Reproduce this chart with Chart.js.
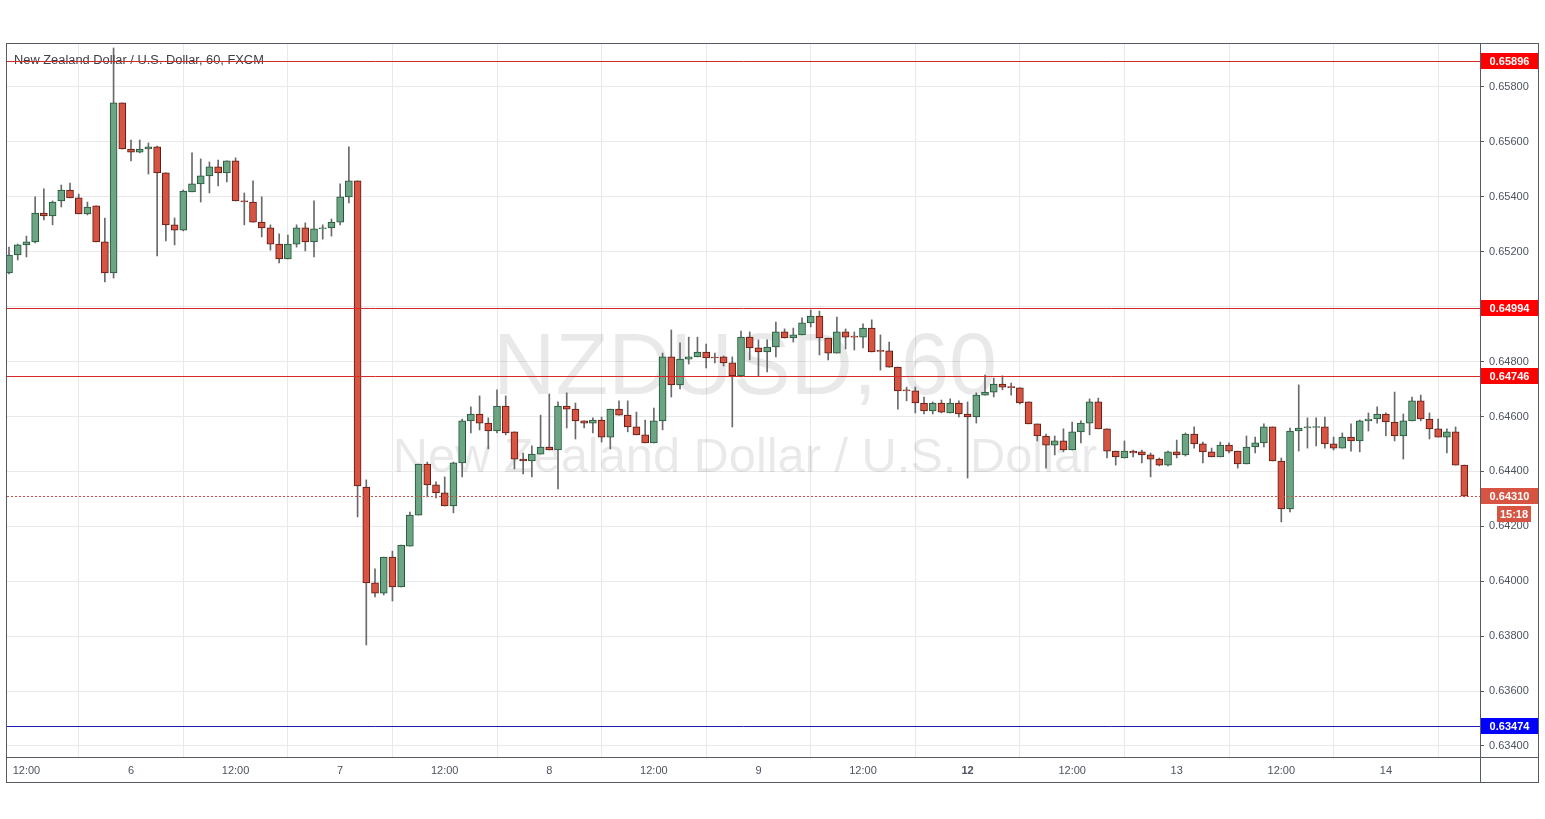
<!DOCTYPE html>
<html><head><meta charset="utf-8">
<script src="https://cdn.jsdelivr.net/npm/chart.js@4.4.0/dist/chart.umd.min.js"></script>
<style>html,body{margin:0;padding:0;background:#fff;}canvas{display:block;}</style>
</head><body>
<canvas id="c" width="1545" height="819"></canvas>
<script>
// ---------- DATA (NZD/USD, 60 min, FXCM) ----------
const opens = [
0.65123,0.65188,0.65225,0.65236,0.65341,0.65330,0.65385,0.65425,0.65396,0.65338,
0.65367,0.65236,0.65123,0.65742,0.65574,0.65563,0.65574,0.65582,0.65487,0.65298,
0.65279,0.65418,0.65447,0.65476,0.65509,0.65487,0.65531,0.65385,0.65381,0.65308,
0.65287,0.65228,0.65174,0.65228,0.65287,0.65236,0.65283,0.65287,0.65308,0.65400,
0.65458,0.64343,0.63994,0.63957,0.64088,0.63979,0.64128,0.64241,0.64427,0.64351,
0.64322,0.64274,0.64431,0.64584,0.64609,0.64576,0.64547,0.64638,0.64544,0.64445,
0.64438,0.64463,0.64489,0.64478,0.64638,0.64627,0.64584,0.64576,0.64587,0.64525,
0.64627,0.64605,0.64562,0.64533,0.64504,0.64584,0.64817,0.64715,0.64809,0.64817,
0.64835,0.64815,0.64817,0.64795,0.64748,0.64889,0.64850,0.64835,0.64853,0.64908,
0.64886,0.64897,0.64941,0.64966,0.64886,0.64831,0.64908,0.64893,0.64889,0.64922,
0.64839,0.64839,0.64780,0.64697,0.64693,0.64649,0.64620,0.64649,0.64613,0.64649,
0.64609,0.64598,0.64678,0.64689,0.64718,0.64707,0.64704,0.64653,0.64573,0.64529,
0.64496,0.64511,0.64478,0.64544,0.64576,0.64653,0.64555,0.64474,0.64449,0.64474,
0.64471,0.64460,0.64445,0.64423,0.64471,0.64460,0.64536,0.64500,0.64471,0.64453,
0.64496,0.64474,0.64427,0.64489,0.64504,0.64562,0.64438,0.64263,0.64547,0.64558,
0.64560,0.64562,0.64500,0.64485,0.64525,0.64511,0.64584,0.64591,0.64609,0.64580,
0.64529,0.64584,0.64657,0.64591,0.64555,0.64525,0.64544,0.64423];
const highs = [
0.65217,0.65228,0.65257,0.65400,0.65429,0.65385,0.65443,0.65450,0.65410,0.65381,
0.65367,0.65323,0.65942,0.65742,0.65607,0.65607,0.65596,0.65585,0.65487,0.65323,
0.65425,0.65560,0.65538,0.65527,0.65534,0.65531,0.65542,0.65414,0.65458,0.65400,
0.65298,0.65265,0.65261,0.65298,0.65305,0.65385,0.65298,0.65319,0.65447,0.65582,
0.65458,0.64369,0.64045,0.64088,0.64110,0.64132,0.64252,0.64427,0.64434,0.64362,
0.64380,0.64434,0.64591,0.64635,0.64675,0.64595,0.64697,0.64675,0.64544,0.64467,
0.64493,0.64605,0.64682,0.64653,0.64686,0.64649,0.64584,0.64595,0.64598,0.64627,
0.64657,0.64657,0.64616,0.64587,0.64631,0.64831,0.64915,0.64868,0.64889,0.64889,
0.64864,0.64831,0.64820,0.64817,0.64911,0.64908,0.64879,0.64879,0.64944,0.64919,
0.64922,0.64959,0.64988,0.64984,0.64886,0.64962,0.64919,0.64908,0.64937,0.64952,
0.64897,0.64871,0.64780,0.64707,0.64707,0.64671,0.64653,0.64660,0.64664,0.64657,
0.64653,0.64686,0.64751,0.64740,0.64748,0.64722,0.64704,0.64653,0.64573,0.64536,
0.64529,0.64555,0.64580,0.64584,0.64664,0.64667,0.64555,0.64474,0.64511,0.64478,
0.64478,0.64467,0.64449,0.64474,0.64514,0.64540,0.64562,0.64507,0.64485,0.64507,
0.64504,0.64474,0.64529,0.64525,0.64573,0.64562,0.64449,0.64558,0.64715,0.64595,
0.64595,0.64598,0.64525,0.64540,0.64573,0.64587,0.64613,0.64635,0.64613,0.64689,
0.64609,0.64671,0.64678,0.64613,0.64591,0.64555,0.64562,0.64423];
const lows = [
0.65119,0.65170,0.65181,0.65232,0.65316,0.65298,0.65363,0.65396,0.65338,0.65334,
0.65236,0.65090,0.65104,0.65574,0.65531,0.65560,0.65483,0.65185,0.65239,0.65225,
0.65276,0.65418,0.65381,0.65414,0.65440,0.65454,0.65385,0.65298,0.65308,0.65254,
0.65206,0.65159,0.65174,0.65217,0.65203,0.65181,0.65246,0.65257,0.65298,0.65378,
0.64234,0.63768,0.63943,0.63950,0.63928,0.63979,0.64128,0.64241,0.64307,0.64303,
0.64274,0.64249,0.64380,0.64540,0.64551,0.64482,0.64540,0.64533,0.64409,0.64391,
0.64380,0.64463,0.64478,0.64336,0.64558,0.64518,0.64558,0.64540,0.64507,0.64482,
0.64605,0.64544,0.64533,0.64504,0.64504,0.64551,0.64671,0.64700,0.64791,0.64817,
0.64777,0.64795,0.64784,0.64562,0.64744,0.64806,0.64748,0.64762,0.64817,0.64886,
0.64871,0.64897,0.64926,0.64824,0.64806,0.64831,0.64846,0.64842,0.64850,0.64835,
0.64769,0.64780,0.64627,0.64657,0.64613,0.64609,0.64609,0.64613,0.64613,0.64598,
0.64376,0.64576,0.64678,0.64671,0.64697,0.64678,0.64646,0.64573,0.64511,0.64412,
0.64460,0.64471,0.64478,0.64504,0.64533,0.64555,0.64449,0.64423,0.64449,0.64453,
0.64431,0.64380,0.64420,0.64420,0.64449,0.64456,0.64485,0.64431,0.64453,0.64453,
0.64467,0.64412,0.64427,0.64467,0.64489,0.64438,0.64216,0.64252,0.64474,0.64485,
0.64493,0.64485,0.64478,0.64485,0.64474,0.64471,0.64547,0.64576,0.64529,0.64511,
0.64445,0.64584,0.64584,0.64518,0.64525,0.64467,0.64423,0.64307];
const closes = [
0.65188,0.65225,0.65236,0.65341,0.65330,0.65381,0.65425,0.65396,0.65338,0.65363,
0.65236,0.65123,0.65742,0.65574,0.65563,0.65574,0.65582,0.65487,0.65298,0.65279,
0.65421,0.65447,0.65476,0.65509,0.65487,0.65531,0.65385,0.65381,0.65308,0.65287,
0.65228,0.65174,0.65228,0.65287,0.65236,0.65283,0.65284,0.65308,0.65400,0.65458,
0.64347,0.63994,0.63957,0.64088,0.63979,0.64132,0.64241,0.64427,0.64351,0.64322,
0.64274,0.64431,0.64584,0.64609,0.64576,0.64547,0.64638,0.64540,0.64445,0.64438,
0.64463,0.64489,0.64478,0.64638,0.64627,0.64584,0.64576,0.64587,0.64525,0.64627,
0.64605,0.64562,0.64533,0.64504,0.64584,0.64817,0.64715,0.64809,0.64817,0.64835,
0.64813,0.64813,0.64795,0.64748,0.64889,0.64850,0.64835,0.64853,0.64908,0.64886,
0.64897,0.64941,0.64966,0.64886,0.64831,0.64908,0.64889,0.64889,0.64922,0.64835,
0.64837,0.64780,0.64693,0.64693,0.64649,0.64620,0.64649,0.64616,0.64649,0.64609,
0.64598,0.64678,0.64689,0.64718,0.64707,0.64705,0.64649,0.64573,0.64529,0.64496,
0.64511,0.64478,0.64544,0.64576,0.64653,0.64555,0.64474,0.64453,0.64474,0.64467,
0.64460,0.64445,0.64423,0.64471,0.64460,0.64536,0.64500,0.64471,0.64453,0.64496,
0.64474,0.64427,0.64489,0.64504,0.64562,0.64438,0.64263,0.64547,0.64558,0.64562,
0.64562,0.64500,0.64485,0.64525,0.64511,0.64584,0.64591,0.64609,0.64580,0.64529,
0.64584,0.64657,0.64591,0.64555,0.64525,0.64544,0.64423,0.64310];

const xTickIndex  = [2, 14, 26, 38, 50, 62, 74, 86, 98, 110, 122, 134, 146, 158];
const xTickLabels = ['12:00','6','12:00','7','12:00','8','12:00','9','12:00','12','12:00','13','12:00','14'];
const yTicks = [0.634,0.636,0.638,0.640,0.642,0.644,0.646,0.648,0.650,0.652,0.654,0.656,0.658];
const redLevels = [0.65896, 0.64994, 0.64746];
const blueLevel = 0.63474;
const lastPrice = 0.64310;
const countdown = '15:18';
const titleText = 'New Zealand Dollar / U.S. Dollar, 60, FXCM';
const watermark1 = 'NZDUSD, 60';
const watermark2 = 'New Zealand Dollar / U.S. Dollar';

// ---------- STYLE ----------
const FAM = "'Liberation Sans', Arial, sans-serif";
const UP = '#6ba583', DOWN = '#d75442', UP_B = '#225437', DOWN_B = '#5b1a13', WICK = '#6a6a6c';
const isUp = i => closes[i] >= opens[i];

function fitSize(ctx, text, w, weight) {
  ctx.font = `${weight} 100px ${FAM}`;
  return 100 * w / ctx.measureText(text).width;
}
function box(ctx, x, y, w, h, color, text, font) {
  ctx.fillStyle = color;
  ctx.fillRect(x, Math.round(y - h / 2), w, h);
  ctx.fillStyle = '#fff';
  ctx.font = font;
  ctx.textAlign = 'center';
  ctx.textBaseline = 'middle';
  ctx.fillText(text, x + w / 2, Math.round(y) + 0.5);
}
function hline(ctx, ca, py, color, dash) {
  ctx.save();
  ctx.strokeStyle = color; ctx.lineWidth = 1;
  if (dash) ctx.setLineDash(dash);
  const yy = Math.round(py) + 0.5;
  ctx.beginPath(); ctx.moveTo(ca.left, yy); ctx.lineTo(ca.right, yy); ctx.stroke();
  ctx.restore();
}

const overlay = {
  id: 'overlay',
  beforeDraw(chart) {
    const c = chart.ctx;
    c.save(); c.fillStyle = '#fff'; c.fillRect(0, 0, chart.width, chart.height); c.restore();
  },
  beforeDatasetsDraw(chart) {
    const c = chart.ctx, ca = chart.chartArea;
    c.save();
    c.beginPath(); c.rect(ca.left, ca.top, ca.right - ca.left, ca.bottom - ca.top); c.clip();
    c.fillStyle = 'rgba(0,0,0,0.085)';
    c.textAlign = 'center'; c.textBaseline = 'alphabetic';
    const cx = 745;
    let s = fitSize(c, watermark1, 504, 'normal');
    c.font = `normal ${s}px ${FAM}`;
    c.fillText(watermark1, cx, 394);
    s = fitSize(c, watermark2, 705, 'normal');
    c.font = `normal ${s}px ${FAM}`;
    c.fillText(watermark2, cx, 472);
    c.restore();
  },
  afterDraw(chart) {
    const c = chart.ctx, ca = chart.chartArea, y = chart.scales.y;
    c.save();
    // frame
    c.strokeStyle = '#555a63'; c.lineWidth = 1;
    c.strokeRect(6.5, ca.top + 0.5, 1538 - 6, 782 - ca.top);
    c.beginPath();
    c.moveTo(ca.right + 0.5, ca.top); c.lineTo(ca.right + 0.5, 782);
    c.moveTo(6, ca.bottom + 0.5); c.lineTo(1538, ca.bottom + 0.5);
    c.stroke();
    // title
    c.fillStyle = '#3b3e45';
    const ts = fitSize(c, titleText, 250, 'normal');
    c.font = `normal ${ts}px ${FAM}`;
    c.textAlign = 'left'; c.textBaseline = 'middle';
    c.fillText(titleText, 14, 60);
    // level lines (drawn over candles and title, like the chart's drawings)
    redLevels.forEach(v => hline(c, ca, y.getPixelForValue(v), '#d42a2a'));
    hline(c, ca, y.getPixelForValue(blueLevel), '#1c1cb0');
    hline(c, ca, y.getPixelForValue(lastPrice), '#c8504a', [2, 2]);
    // axis boxes
    const bf = `bold 11px ${FAM}`;
    const bx = ca.right + 1, bw = 1538 - ca.right - 1;
    redLevels.forEach(v => box(c, bx, y.getPixelForValue(v), bw, 16, '#ff0000', v.toFixed(5), bf));
    box(c, bx, y.getPixelForValue(blueLevel), bw, 16, '#0000ff', blueLevel.toFixed(5), bf);
    const lp = y.getPixelForValue(lastPrice);
    box(c, bx, lp, bw, 16, '#d75442', lastPrice.toFixed(5), bf);
    box(c, 1497, lp + 18, 34, 16, '#d75442', countdown, bf);
    c.restore();
  }
};

new Chart(document.getElementById('c'), {
  type: 'bar',
  data: {
    datasets: [
      {
        label: 'body',
        data: opens.map((o, i) => ({ x: i, y: [o, closes[i]] })),
        backgroundColor: opens.map((o, i) => isUp(i) ? UP : DOWN),
        borderColor: opens.map((o, i) => isUp(i) ? UP_B : DOWN_B),
        borderWidth: 1,
        borderSkipped: false,
        barThickness: 7,
        minBarLength: 1,
        grouped: false
      },
      {
        label: 'wick',
        data: lows.map((l, i) => ({ x: i, y: [l, highs[i]] })),
        backgroundColor: WICK,
        borderWidth: 0,
        barThickness: 1,
        grouped: false
      }
    ]
  },
  options: {
    responsive: false,
    animation: false,
    devicePixelRatio: 1,
    layout: { padding: { left: 7, top: 43, right: 7, bottom: 37 } },
    plugins: { legend: { display: false }, tooltip: { enabled: false } },
    scales: {
      x: {
        type: 'linear', min: -0.23, max: 168.8, offset: false,
        afterBuildTicks: s => { s.ticks = xTickIndex.map(v => ({ value: v })); },
        afterFit: s => { s.height = 25; },
        grid: { color: '#e8e9ec', drawTicks: false },
        border: { display: false },
        ticks: {
          autoSkip: false, maxRotation: 0, padding: 7, color: '#4c525e',
          callback: (v, i) => xTickLabels[i],
          font: ctx => ({ family: FAM, size: 11, weight: (xTickLabels[ctx.index] === '12') ? 'bold' : 'normal' })
        }
      },
      y: {
        type: 'linear', position: 'right', min: 0.633599, max: 0.659602,
        afterBuildTicks: s => { s.ticks = yTicks.map(v => ({ value: v })); },
        afterFit: s => { s.width = 58; },
        grid: { color: '#e8e9ec', drawTicks: true, tickLength: 4, tickColor: '#555a63' },
        border: { display: false },
        ticks: {
          padding: 5, color: '#4c525e', font: { family: FAM, size: 11 },
          callback: v => Number(v).toFixed(5)
        }
      }
    }
  },
  plugins: [overlay]
});
</script>
</body></html>
